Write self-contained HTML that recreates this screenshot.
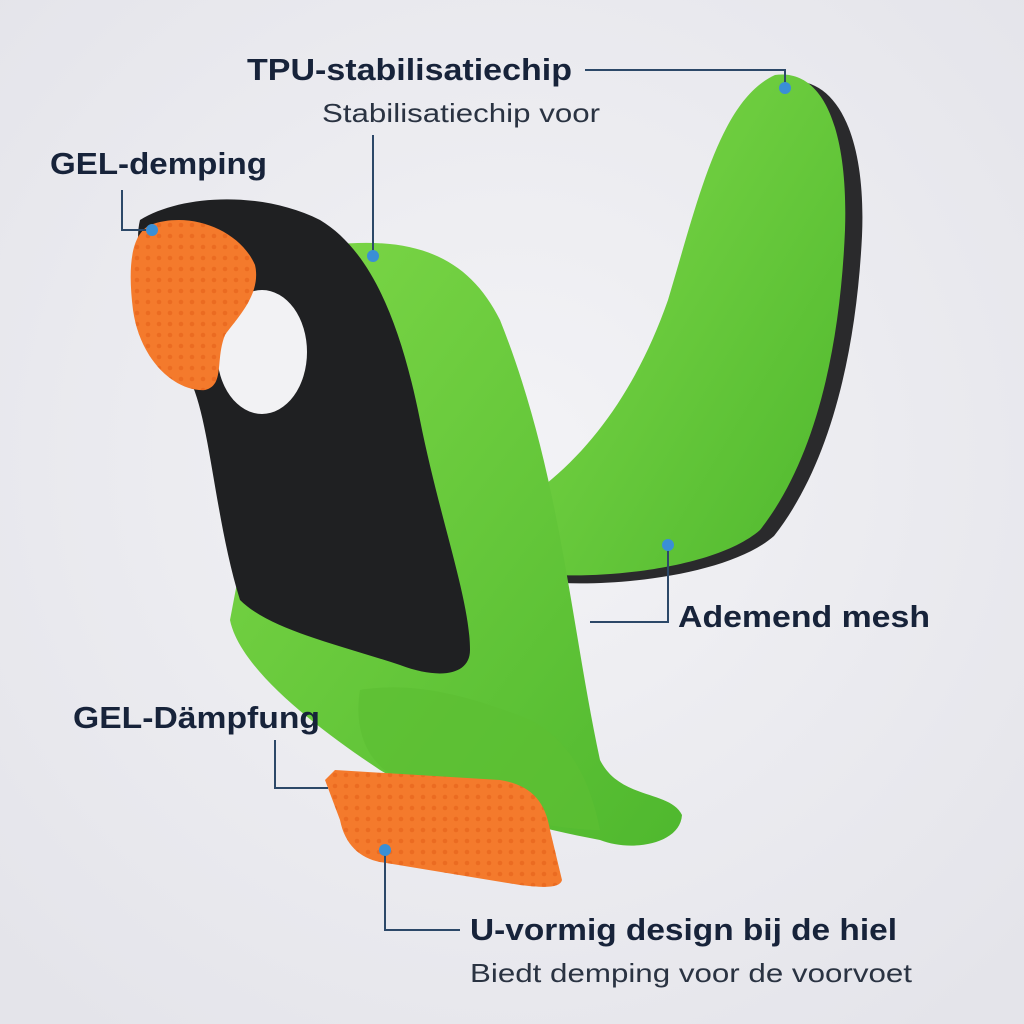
<!DOCTYPE html>
<html><head><meta charset="utf-8"><style>
html,body{margin:0;padding:0;background:#ecebf0;}
svg{display:block}
text{font-family:"Liberation Sans",sans-serif;fill:#17233a}
.b{font-weight:bold;font-size:31px}
.r{font-size:26px;fill:#2a3342}
</style></head><body>
<svg width="1024" height="1024" viewBox="0 0 1024 1024">
<defs>
<radialGradient id="bg" cx="50%" cy="45%" r="70%"><stop offset="0" stop-color="#f3f3f6"/><stop offset="1" stop-color="#e4e4ea"/></radialGradient>
<linearGradient id="g1" x1="0" y1="0" x2="1" y2="1"><stop offset="0" stop-color="#7ed848"/><stop offset="1" stop-color="#4fb82e"/></linearGradient>
<pattern id="dots" width="11" height="11" patternUnits="userSpaceOnUse"><circle cx="5" cy="5" r="2.3" fill="#e5611a"/></pattern>
</defs>
<rect width="1024" height="1024" fill="url(#bg)"/>
<!-- right insole -->
<path d="M560 490 C612 448 652 388 682 308 C712 208 732 108 787 81 C842 76 866 146 862 236 C856 356 829 466 774 536 C734 571 634 586 562 583 Z" fill="#2a2a2c"/>
<path d="M546 484 C598 442 640 380 668 300 C698 200 720 100 775 75 C828 68 848 140 845 230 C840 350 815 460 760 530 C720 565 620 578 555 575 Z" fill="url(#g1)"/>
<!-- left big green body -->
<path d="M330 245 C420 235 470 260 500 320 C560 470 570 620 600 760 C620 800 670 790 682 815 C680 845 630 852 600 840 C520 825 430 800 380 770 C320 730 240 670 230 620 L300 250 Z" fill="url(#g1)"/>
<path d="M360 690 C420 680 480 700 530 720 C570 740 590 780 600 830 C540 830 440 800 400 780 C360 760 355 720 360 690 Z" fill="#5cbf33" opacity="0.7"/>
<!-- black shell -->
<path d="M140 220 C180 195 260 190 320 220 C370 250 400 320 420 420 C440 520 470 600 470 650 C470 675 440 680 400 665 C340 645 270 630 240 600 C215 520 210 420 190 380 C160 330 130 260 140 220 Z" fill="#1f2022"/>
<ellipse cx="262" cy="352" rx="45" ry="62" fill="#f2f2f4"/>
<!-- orange top pad -->
<path d="M150 225 C190 210 240 230 255 265 C262 295 235 320 225 335 C215 360 225 385 205 390 C175 392 140 360 133 310 C128 270 130 235 150 225 Z" fill="#f47a2c"/>
<path d="M150 225 C190 210 240 230 255 265 C262 295 235 320 225 335 C215 360 225 385 205 390 C175 392 140 360 133 310 C128 270 130 235 150 225 Z" fill="url(#dots)" opacity="0.6"/>
<!-- orange bottom pad -->
<path d="M335 770 L500 780 C530 785 545 800 550 830 L562 880 C560 888 545 888 520 885 L380 862 C360 858 345 845 340 820 L325 780 Z" fill="#f47a2c"/>
<path d="M335 770 L500 780 C530 785 545 800 550 830 L562 880 C560 888 545 888 520 885 L380 862 C360 858 345 845 340 820 L325 780 Z" fill="url(#dots)" opacity="0.6"/>
<!-- connectors -->
<g stroke="#2c4868" stroke-width="2" fill="none">
<path d="M585 70 H785 V88"/>
<path d="M373 135 V255"/>
<path d="M122 190 V230 H150"/>
<path d="M590 622 H668 V545"/>
<path d="M275 740 V788 H328"/>
<path d="M385 850 V930 H460"/>
</g>
<g fill="#3a8fd6">
<circle cx="785" cy="88" r="6"/><circle cx="373" cy="256" r="6"/><circle cx="152" cy="230" r="6"/>
<circle cx="668" cy="545" r="6"/><circle cx="385" cy="850" r="6"/>
</g>
<!-- text -->
<text class="b" x="247" y="80" textLength="325" lengthAdjust="spacingAndGlyphs">TPU-stabilisatiechip</text>
<text class="r" x="322" y="122" textLength="278" lengthAdjust="spacingAndGlyphs">Stabilisatiechip voor</text>
<text class="b" x="50" y="174" textLength="217" lengthAdjust="spacingAndGlyphs">GEL-demping</text>
<text class="b" x="678" y="627" textLength="252" lengthAdjust="spacingAndGlyphs">Ademend mesh</text>
<text class="b" x="73" y="728" textLength="247" lengthAdjust="spacingAndGlyphs">GEL-Dämpfung</text>
<text class="b" x="470" y="940" textLength="427" lengthAdjust="spacingAndGlyphs">U-vormig design bij de hiel</text>
<text class="r" x="470" y="982" textLength="442" lengthAdjust="spacingAndGlyphs">Biedt demping voor de voorvoet</text>
</svg>
</body></html>
